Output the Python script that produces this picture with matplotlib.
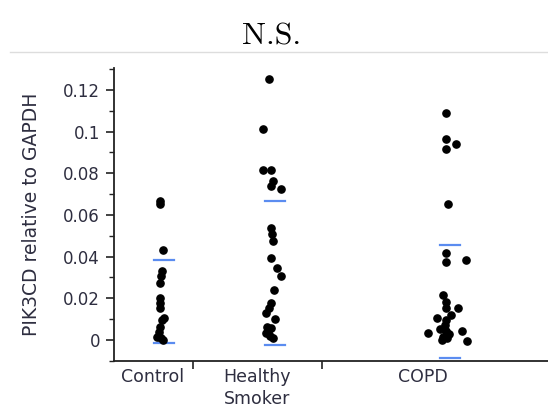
import numpy as np
import matplotlib.pyplot as plt
from matplotlib.ticker import MultipleLocator, FixedLocator, NullFormatter

# group labels and layout along x (pixel-like units)
categories = ['Control', 'Healthy\nSmoker', 'COPD']
label_pos = [153, 257, 423]
group_edges = [193, 322]

# PIK3CD / GAPDH values
control_x = [160, 160, 163, 162, 161, 160, 160, 160, 160, 164, 162, 160, 159, 157, 161, 163]
control_y = [0.0666, 0.0650, 0.0433, 0.0329, 0.0305, 0.0273, 0.0201, 0.0177, 0.0154,
             0.0104, 0.0096, 0.0064, 0.0040, 0.0016, 0.0010, 0.0000]

healthy_x = [269, 263, 263, 271, 273, 271, 281, 271, 272, 273, 271, 277, 281, 274,
             271, 269, 266, 275, 267, 271, 266, 270, 273, 268]
healthy_y = [0.1251, 0.1011, 0.0815, 0.0815, 0.0762, 0.0738, 0.0722, 0.0538, 0.0510,
             0.0473, 0.0393, 0.0345, 0.0308, 0.0241, 0.0177, 0.0153, 0.0128, 0.0100,
             0.0064, 0.0056, 0.0032, 0.0019, 0.0008, 0.0040]

copd_x = [446, 446, 456, 446, 448, 446, 446, 466, 443, 446, 446, 458, 451, 437, 446,
          445, 428, 440, 446, 462, 442, 447, 447, 467, 443, 449]
copd_y = [0.1091, 0.0966, 0.0942, 0.0918, 0.0653, 0.0417, 0.0372, 0.0385, 0.0217,
          0.0184, 0.0153, 0.0153, 0.0120, 0.0107, 0.0096, 0.0072, 0.0035, 0.0051,
          0.0043, 0.0043, 0.0000, 0.0008, 0.0024, -0.0005, 0.0015, 0.0030]

# blue bars (upper / lower) per group
bar_center = [164, 275, 450]
bar_upper = [0.0385, 0.0666, 0.0454]
bar_lower = [-0.0013, -0.0024, -0.0085]

fig = plt.figure(figsize=(5.48, 4.13), dpi=100)
ax = fig.add_axes([114 / 548, 52 / 413, 434 / 548, 293 / 413])

dot_kw = dict(marker='o', ms=5.2, color='black', linestyle='none')
ax.plot(control_x, control_y, **dot_kw)
ax.plot(healthy_x, healthy_y, **dot_kw)
ax.plot(copd_x, copd_y, **dot_kw)

for c, up, lo in zip(bar_center, bar_upper, bar_lower):
    ax.plot([c - 10, c + 10], [up, up], color='#5b8cf0', lw=1.6, zorder=1)
    ax.plot([c - 10, c + 10], [lo, lo], color='#5b8cf0', lw=1.6, zorder=1)

ax.set_xlim(114, 548)
ax.set_ylim(-0.0101, 0.1305)

for s in ['top', 'right']:
    ax.spines[s].set_visible(False)
for s in ['left', 'bottom']:
    ax.spines[s].set_color('#222222')
    ax.spines[s].set_linewidth(1.3)

txt_color = '#2e2e40'
ax.yaxis.set_major_locator(MultipleLocator(0.02))
ax.yaxis.set_minor_locator(MultipleLocator(0.01))
ax.set_yticks([0, 0.02, 0.04, 0.06, 0.08, 0.1, 0.12])
ax.set_yticklabels(['0', '0.02', '0.04', '0.06', '0.08', '0.1', '0.12'])
ax.tick_params(axis='y', which='major', length=6, width=1.2, color='#222222',
               labelsize=12, labelcolor=txt_color, pad=4)
ax.tick_params(axis='y', which='minor', length=3.5, width=1.0, color='#222222')

ax.xaxis.set_major_locator(FixedLocator(group_edges))
ax.xaxis.set_major_formatter(NullFormatter())
ax.xaxis.set_minor_locator(FixedLocator(label_pos))
ax.set_xticklabels(categories, minor=True)
ax.tick_params(axis='x', which='major', length=6, width=1.2, color='#222222')
ax.tick_params(axis='x', which='minor', length=0, labelsize=12.5,
               labelcolor=txt_color, pad=5)
for lbl in ax.xaxis.get_minorticklabels():
    lbl.set_linespacing(1.3)

ax.set_ylabel('PIK3CD relative to GAPDH', fontsize=13.5, color=txt_color, labelpad=16)

fig.text(0.495, 0.912, 'N.S.', ha='center', va='center', fontsize=23,
         family='cmr10')
fig.add_artist(plt.Line2D([10 / 548, 1], [1 - 52 / 413, 1 - 52 / 413],
                          color='#dddddd', lw=1.0))

fig.savefig('out.png', dpi=100)
